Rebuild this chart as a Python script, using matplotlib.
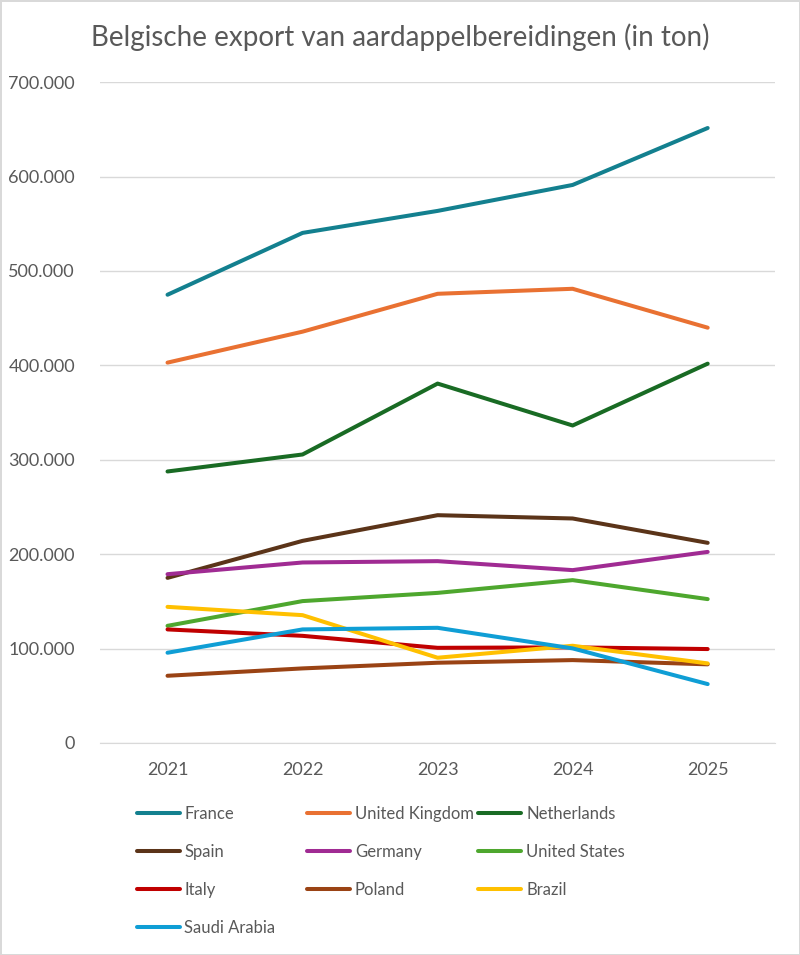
import matplotlib.pyplot as plt
from matplotlib.ticker import FuncFormatter

plt.rcParams['font.family'] = ['Lato', 'DejaVu Sans']

years = ['2021', '2022', '2023', '2024', '2025']

france = [474800, 540300, 563600, 591100, 651400]
uk = [402900, 435700, 475800, 481100, 439900]
netherlands = [287600, 305600, 380700, 336300, 401800]
spain = [174900, 214100, 241300, 237800, 212000]
germany = [178800, 191200, 192600, 183100, 202400]
us = [124100, 150300, 159000, 172500, 152400]
italy = [120300, 113500, 100800, 101300, 99500]
poland = [71200, 79000, 85000, 87800, 83300]
brazil = [144200, 135400, 90300, 103000, 84300]
saudi = [95600, 120300, 122000, 100200, 62400]

series = [
    ('France', france, '#13808F'),
    ('United Kingdom', uk, '#E97132'),
    ('Netherlands', netherlands, '#196B24'),
    ('Spain', spain, '#5B3419'),
    ('Germany', germany, '#A02B93'),
    ('United States', us, '#4EA72E'),
    ('Italy', italy, '#C00000'),
    ('Poland', poland, '#9A4314'),
    ('Brazil', brazil, '#FFC000'),
    ('Saudi Arabia', saudi, '#0F9ED5'),
]

grey = '#595959'

fig = plt.figure(figsize=(8, 9.55), dpi=100)
fig.patch.set_edgecolor('#D9D9D9')
fig.patch.set_linewidth(2)
ax = fig.add_axes([0.125, 0.222, 0.844, 0.692])

x = range(len(years))
handles = {}
for name, vals, col in series:
    ln, = ax.plot(x, vals, color=col, lw=2.9, solid_capstyle='round',
                  solid_joinstyle='round', label=name)
    handles[name] = ln

ax.set_xlim(-0.5, 4.5)
ax.set_ylim(0, 700000)
ax.set_yticks(range(0, 700001, 100000))
ax.yaxis.set_major_formatter(FuncFormatter(lambda v, p: f'{int(v):,}'.replace(',', '.')))
ax.set_xticks(list(x))
ax.set_xticklabels(years)
ax.grid(axis='y', color='#D9D9D9', lw=1)
ax.set_axisbelow(True)
for s in ['left', 'right', 'top']:
    ax.spines[s].set_visible(False)
ax.spines['bottom'].set_color('#D9D9D9')
ax.tick_params(length=0, labelsize=13, colors=grey, pad=14)
ax.tick_params(axis='y', pad=18)

fig.suptitle('Belgische export van aardappelbereidingen (in ton)', x=0.5, y=0.975,
             fontsize=20, color=grey)

# legend in Excel row order, built as three single-column legends
cols = [['France', 'Spain', 'Italy', 'Saudi Arabia'],
        ['United Kingdom', 'Germany', 'Poland'],
        ['Netherlands', 'United States', 'Brazil']]
xs = [0.171, 0.384, 0.598]
for names, xp in zip(cols, xs):
    leg = fig.legend([handles[n] for n in names], names, loc='upper left',
                     bbox_to_anchor=(xp, 0.1562), frameon=False, fontsize=12,
                     handlelength=2.58, handletextpad=0.28, labelspacing=1.32,
                     borderpad=0, borderaxespad=0)
    for t in leg.get_texts():
        t.set_color(grey)

fig.savefig('out.png', dpi=100)
